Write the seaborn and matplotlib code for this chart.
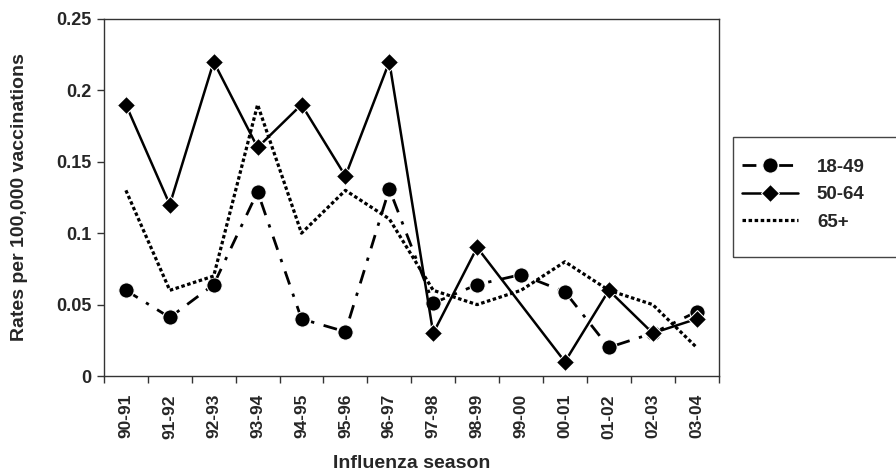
import numpy as np
import pandas as pd
import matplotlib
matplotlib.use('Agg')
import matplotlib.pyplot as plt
import matplotlib.patches as mpatches
import seaborn as sns

# Values
seasons = ['90-91', '91-92', '92-93', '93-94', '94-95', '95-96', '96-97',
           '97-98', '98-99', '99-00', '00-01', '01-02', '02-03', '03-04']
rate_18_49 = [0.060, 0.041, 0.064, 0.129, 0.040, 0.031, 0.131,
              0.051, 0.064, 0.071, 0.059, 0.020, 0.030, 0.045]
rate_50_64 = [0.19, 0.12, 0.22, 0.16, 0.19, 0.14, 0.22,
              0.03, 0.09, np.nan, 0.01, 0.06, 0.03, 0.04]
rate_65 = [0.13, 0.06, 0.07, 0.19, 0.10, 0.13, 0.11,
           0.06, 0.05, 0.06, 0.08, 0.06, 0.05, 0.02]
groups = ['18-49', '50-64', '65+']

sns.set_style('white')
plt.rcParams['font.family'] = ['Liberation Sans', 'DejaVu Sans']
plt.rcParams['font.weight'] = 'bold'

fig = plt.figure(figsize=(8.96, 4.73), dpi=100)
ax = fig.add_axes([0.116, 0.205, 0.686, 0.755])

styles = {
    '18-49': dict(marker='o', markersize=11, linestyle=(0, (5, 3.5, 1.2, 3.5)), linewidth=2),
    '50-64': dict(marker='D', markersize=9, linestyle='-', linewidth=1.8),
    '65+': dict(marker='', linestyle=(0, (1.1, 0.8)), linewidth=2.3, dash_capstyle='butt'),
}
series = {'18-49': rate_18_49, '50-64': rate_50_64, '65+': rate_65}

for g in groups:
    df = pd.DataFrame({'season': seasons, 'rate': series[g]}).dropna()
    sns.lineplot(data=df, x='season', y='rate', ax=ax, color='black',
                 label=g, sort=False, **styles[g])

ax.set_xlim(-0.5, len(seasons) - 0.5)
ax.set_ylim(0, 0.25)
ax.set_yticks([0, 0.05, 0.1, 0.15, 0.2, 0.25])
ax.set_yticklabels(['0', '0.05', '0.1', '0.15', '0.2', '0.25'])
ax.set_xticks(np.arange(-0.5, len(seasons)), labels=[])
ax.set_xticks(np.arange(len(seasons)), labels=seasons, minor=True)
ax.tick_params(axis='x', which='minor', length=0, rotation=90, labelsize=12.5, pad=13)
ax.tick_params(axis='x', which='major', length=5, width=1, color='#333333', direction='out')
ax.tick_params(axis='y', length=5, width=1, color='#333333', direction='out', labelsize=13, pad=4)
ax.xaxis.set_tick_params(bottom=True, which='major')
ax.yaxis.set_tick_params(left=True)

for s in ax.spines.values():
    s.set_visible(True)
    s.set_color('#333333')
    s.set_linewidth(1)

ax.set_xlabel('Influenza season', fontsize=14, fontweight='bold')
ax.xaxis.set_label_coords(0.5, -0.222)
ax.set_ylabel('Rates per 100,000 vaccinations', fontsize=14, fontweight='bold', labelpad=20)

# legend box (runs off the right edge like the original)
fig.patches.append(mpatches.Rectangle((0.818, 0.457), 0.2, 0.253, transform=fig.transFigure,
                                      fill=False, edgecolor='#444444', linewidth=1))
leg = ax.legend(loc='upper left', bbox_to_anchor=(0.828, 0.664), bbox_transform=fig.transFigure,
                frameon=False, fontsize=13.5, handlelength=3.0, handletextpad=1.0,
                labelspacing=0.55, borderpad=0, borderaxespad=0)

fig.savefig('out.png', dpi=100)
